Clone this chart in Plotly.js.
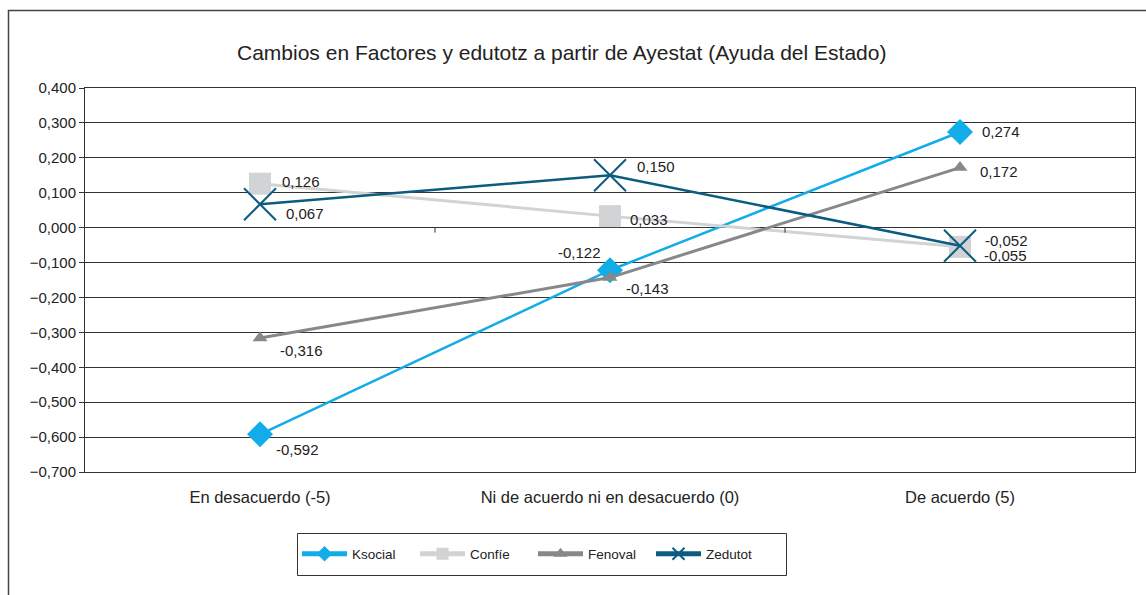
<!DOCTYPE html>
<html>
<head>
<meta charset="utf-8">
<script src="https://cdn.plot.ly/plotly-3.0.1.min.js"></script>
<style>html,body{margin:0;padding:0;background:#fff;}#chart{width:1146px;height:595px;}</style>
</head>
<body>
<div id="chart"></div>
<script>
// ---- data ----
const categories = ["En desacuerdo (-5)", "Ni de acuerdo ni en desacuerdo (0)", "De acuerdo (5)"];
const seriesNames = ["Ksocial", "Confíe", "Fenoval", "Zedutot"];
const ksocial = [-0.592, -0.122, 0.274];
const confie = [0.126, 0.033, -0.055];
const fenoval = [-0.316, -0.143, 0.172];
const zedutot = [0.067, 0.150, -0.052];
const yTickVals = [0.4, 0.3, 0.2, 0.1, 0, -0.1, -0.2, -0.3, -0.4, -0.5, -0.6, -0.7];
const chartTitle = "Cambios en Factores y edutotz a partir de Ayestat (Ayuda del Estado)";

// ---- styles ----
const font = "Liberation Sans, Arial, sans-serif";
const textColor = "#222";
const styles = [
  {color: "#12ADE8", symbol: "diamond", size: 20, lw: 2.5},
  {color: "#D2D3D4", symbol: "square", size: 22, lw: 3},
  {color: "#87888A", symbol: "triangle-up", size: 13, lw: 3},
  {color: "#0B5C80", symbol: "x-thin", size: 32, lw: 2.5}
];
// label offsets (px) per series per point: [xshift, yshift]
const labelOffsets = [
  [[14, -15], [-7, 18], [20, 0]],
  [[20, 2], [18, -3], [22, -9]],
  [[18, -13], [14, -11], [18, -4]],
  [[24, -9], [25, 9], [23, 5]]
];
const labelAnchors = [
  ["left", "right", "left"],
  ["left", "left", "left"],
  ["left", "left", "left"],
  ["left", "left", "left"]
];

const allSeries = [ksocial, confie, fenoval, zedutot];
const xIdx = categories.map((c, i) => i);

const traces = allSeries.map((vals, s) => {
  const st = styles[s];
  const marker = {symbol: st.symbol, size: st.size, color: st.color};
  if (st.symbol === "x-thin") marker.line = {color: st.color, width: 2};
  return {
    type: "scatter", mode: "lines+markers", name: seriesNames[s],
    x: xIdx, y: vals,
    line: {color: st.color, width: st.lw},
    marker: marker,
    hoverinfo: "skip"
  };
});

const fmt = v => v.toFixed(3).replace(".", ",");
const annotations = [];
allSeries.forEach((vals, s) => {
  vals.forEach((v, i) => {
    annotations.push({
      x: xIdx[i], y: v, xref: "x", yref: "y",
      text: fmt(v), showarrow: false,
      xanchor: labelAnchors[s][i], yanchor: "middle",
      xshift: labelOffsets[s][i][0], yshift: labelOffsets[s][i][1],
      font: {family: font, size: 15, color: textColor}
    });
  });
});
annotations.push({
  xref: "paper", yref: "paper", x: (561 - 85) / 1050, y: (472 - 52) / 384,
  xanchor: "center", yanchor: "middle", showarrow: false,
  text: chartTitle, font: {family: font, size: 21, color: textColor}
});

const px2py = p => (472 - p) / 384;
const px2px = p => (p - 85) / 1050;

const shapes = [
  // outer frame
  {type: "rect", xref: "paper", yref: "paper", x0: px2px(8.5), x1: px2px(1170), y0: px2py(700), y1: px2py(10.5),
   line: {color: "#444", width: 1.5}, fillcolor: "rgba(0,0,0,0)", layer: "below"},
  // legend box
  {type: "rect", xref: "paper", yref: "paper", x0: px2px(297.5), x1: px2px(786.5), y0: px2py(575.5), y1: px2py(533.5),
   line: {color: "#333", width: 1}, fillcolor: "rgba(0,0,0,0)"},
  // category separator ticks on zero line
  {type: "line", xref: "x", yref: "y", x0: 0.5, x1: 0.5, ysizemode: "pixel", yanchor: 0, y0: 0, y1: -5, line: {color: "#333", width: 1}},
  {type: "line", xref: "x", yref: "y", x0: 1.5, x1: 1.5, ysizemode: "pixel", yanchor: 0, y0: 0, y1: -5, line: {color: "#333", width: 1}}
];

const layout = {
  width: 1146, height: 595,
  margin: {l: 85, r: 11, t: 88, b: 123},
  paper_bgcolor: "#fff", plot_bgcolor: "#fff",
  separators: ",.",
  font: {family: font, size: 13, color: textColor},
  showlegend: true,
  legend: {
    orientation: "h", x: px2px(297), xanchor: "left", y: px2py(554), yanchor: "middle",
    font: {family: font, size: 13.5, color: textColor},
    bgcolor: "rgba(0,0,0,0)", borderwidth: 0,
    itemwidth: 45, entrywidth: 58, itemsizing: "constant", traceorder: "normal"
  },
  xaxis: {
    range: [-0.5, 2.5], tickvals: xIdx, ticktext: categories,
    showgrid: false, zeroline: false, showline: true, mirror: true, linecolor: "#333", linewidth: 1,
    ticks: "outside", ticklen: 10, tickcolor: "rgba(0,0,0,0)",
    tickfont: {family: font, size: 16.5, color: textColor}, fixedrange: true
  },
  yaxis: {
    range: [-0.7, 0.4], tickvals: yTickVals, tickformat: ".3f",
    showgrid: true, gridcolor: "#333", gridwidth: 1,
    zeroline: true, zerolinecolor: "#333", zerolinewidth: 1,
    showline: true, mirror: true, linecolor: "#333", linewidth: 1,
    ticks: "outside", ticklen: 5, tickcolor: "#333",
    tickfont: {family: font, size: 15, color: textColor}, fixedrange: true
  },
  annotations: annotations,
  shapes: shapes
};

Plotly.newPlot("chart", traces, layout, {displayModeBar: false, staticPlot: true});
</script>
</body>
</html>
